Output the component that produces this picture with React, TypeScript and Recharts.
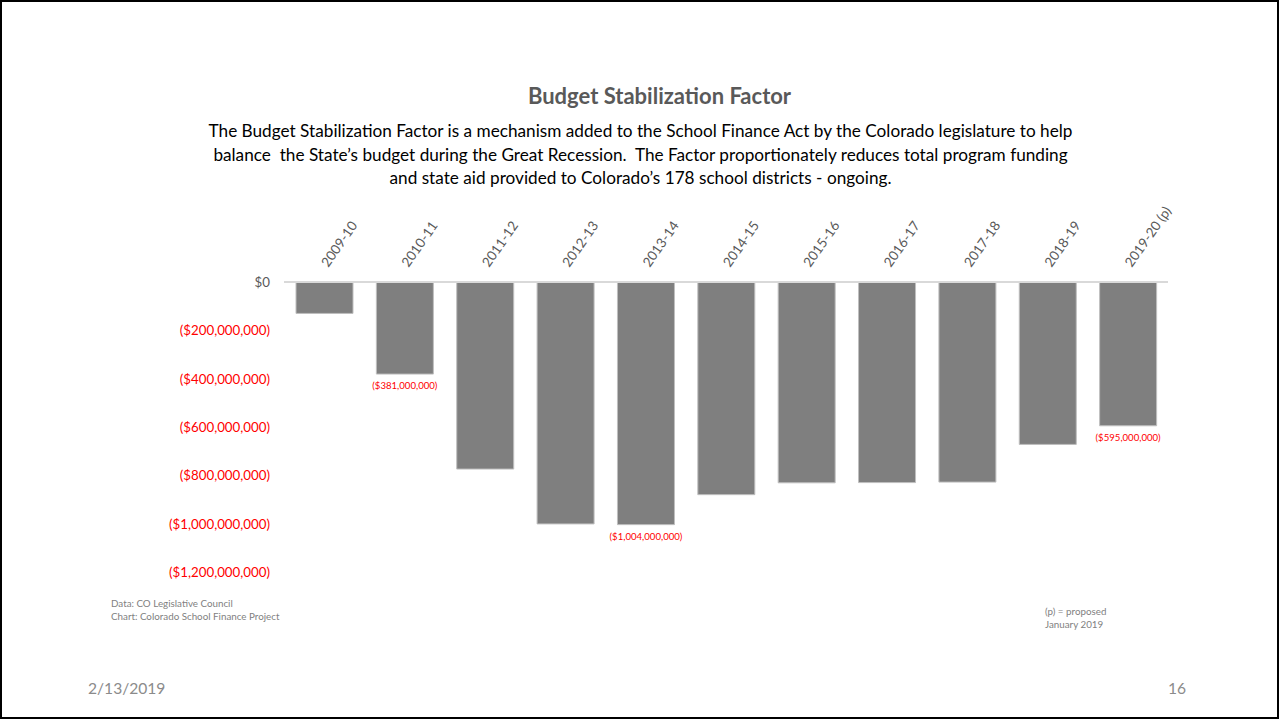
import { Bar, BarChart, LabelList, XAxis, YAxis } from "recharts";

const years = [
  "2009-10",
  "2010-11",
  "2011-12",
  "2012-13",
  "2013-14",
  "2014-15",
  "2015-16",
  "2016-17",
  "2017-18",
  "2018-19",
  "2019-20 (p)",
];
const bsfValues = [
  -130000000, -381000000, -774000000, -1001000000, -1004000000, -880000000,
  -831000000, -830000000, -828000000, -672000000, -595000000,
];
const barLabels = ["", "($381,000,000)", "", "", "($1,004,000,000)", "", "", "", "", "", "($595,000,000)"];
const yTicks = [0, -200000000, -400000000, -600000000, -800000000, -1000000000, -1200000000];

const data = years.map((year, i) => ({ year, value: bsfValues[i], label: barLabels[i] }));

const FONT = "Lato, 'Open Sans', sans-serif";

function money(v: number) {
  if (v === 0) return "$0";
  return "($" + Math.abs(v).toLocaleString("en-US") + ")";
}

function YTick(props: any) {
  const { x, y, payload } = props;
  const v = payload.value;
  return (
    <text x={x} y={y} dy={5} textAnchor="end" fontSize={13.3} fontFamily={FONT} fill={v === 0 ? "#595959" : "#ff0000"}>
      {money(v)}
    </text>
  );
}

function XTick(props: any) {
  const { x, y, payload } = props;
  const tx = x + 4;
  const ty = y - 6;
  return (
    <text
      x={tx}
      y={ty}
      textAnchor="start"
      fontSize={13.5}
      fontFamily={FONT}
      fill="#595959"
      transform={`rotate(-55 ${tx} ${ty})`}
    >
      {payload.value}
    </text>
  );
}

function BarLabel(props: any) {
  const { x, y, width, height, value } = props;
  if (!value) return null;
  const bottom = Math.max(y, y + height);
  return (
    <text x={x + width / 2} y={bottom + 15} textAnchor="middle" fontSize={9.6} fontFamily={FONT} fill="#ff0000">
      {value}
    </text>
  );
}

const abs = (left: number, top: number): React.CSSProperties => ({ position: "absolute", left, top });

export default function App() {
  return (
    <div
      style={{
        position: "absolute",
        left: 0,
        top: 0,
        width: 1279,
        height: 719,
        boxSizing: "border-box",
        border: "2px solid #000",
        background: "#fff",
        fontFamily: FONT,
        overflow: "hidden",
      }}
    >
      <div style={{ position: "absolute", left: 0, top: 0 }}>
        <BarChart
          width={1275}
          height={715}
          data={data}
          margin={{ top: 200, right: 109, left: 0, bottom: 145 }}
        >
          <XAxis
            dataKey="year"
            orientation="top"
            height={80}
            axisLine={{ stroke: "#d9d9d9", strokeWidth: 2 }}
            tickLine={false}
            interval={0}
            tick={<XTick />}
          />
          <YAxis
            type="number"
            domain={[-1200000000, 0]}
            ticks={yTicks}
            width={282}
            axisLine={false}
            tickLine={false}
            tick={<YTick />}
            tickMargin={8}
          />
          <Bar dataKey="value" fill="#7f7f7f" stroke="#bfbfbf" strokeWidth={1} barSize={57} isAnimationActive={false}>
            <LabelList dataKey="label" content={<BarLabel />} />
          </Bar>
        </BarChart>
      </div>

      <div style={{ position: "absolute", left: 0, top: 80, width: 1315, textAlign: "center", fontSize: 22, fontWeight: 700, color: "#595959" }}>
        Budget Stabilization Factor
      </div>
      <div
        style={{
          position: "absolute",
          left: 0,
          top: 117,
          width: 1277,
          textAlign: "center",
          fontSize: 17.2,
          lineHeight: "23.5px",
          color: "#000",
        }}
      >
        The Budget Stabilization Factor is a mechanism added to the School Finance Act by the Colorado legislature to help
        <br />
        balance&nbsp; the State’s budget during the Great Recession.&nbsp; The Factor proportionately reduces total program funding
        <br />
        and state aid provided to Colorado’s 178 school districts - ongoing.
      </div>

      <div style={{ ...abs(109, 595), fontSize: 9.8, lineHeight: "13px", color: "#7f7f7f" }}>
        Data: CO Legislative Council
        <br />
        Chart: Colorado School Finance Project
      </div>
      <div style={{ ...abs(1043, 603), fontSize: 9.8, lineHeight: "13px", color: "#7f7f7f" }}>
        (p) = proposed
        <br />
        January 2019
      </div>
      <div style={{ ...abs(86, 677), fontSize: 15.6, color: "#8b8b8b" }}>2/13/2019</div>
      <div style={{ ...abs(1166, 677), fontSize: 15.6, color: "#8b8b8b" }}>16</div>
    </div>
  );
}
